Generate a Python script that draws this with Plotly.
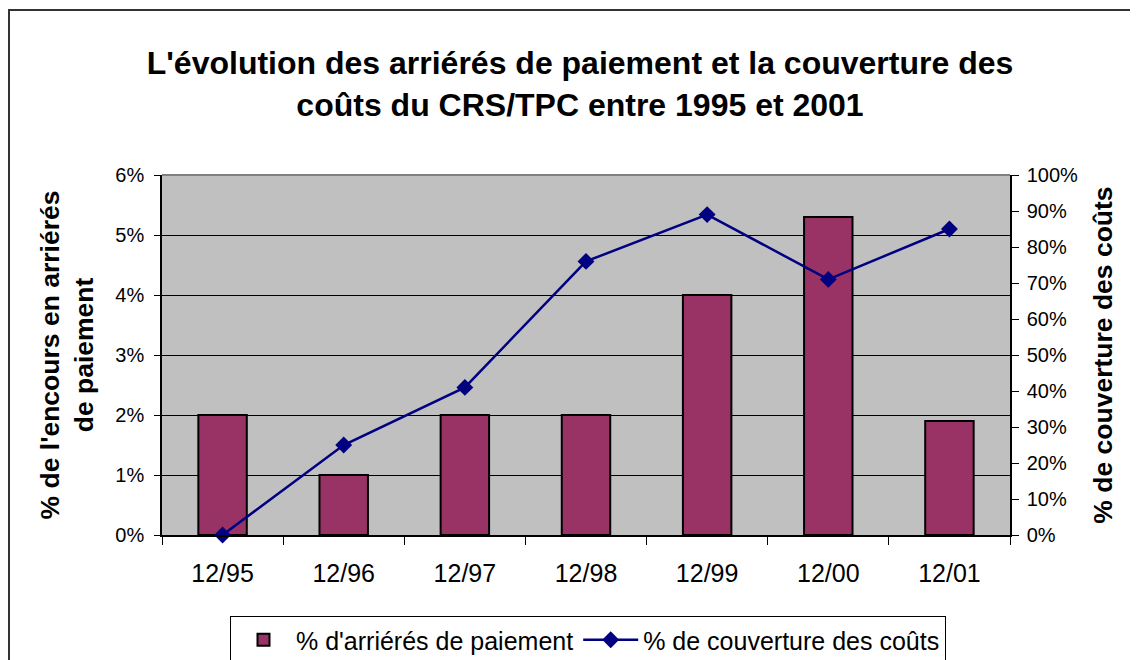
import plotly.graph_objects as go

categories = ["12/95", "12/96", "12/97", "12/98", "12/99", "12/00", "12/01"]
arrears_pct = [0.020, 0.010, 0.020, 0.020, 0.040, 0.053, 0.019]
coverage_pct = [0.00, 0.25, 0.41, 0.76, 0.89, 0.71, 0.85]

title_text = ("L'évolution des arriérés de paiement et la couverture des<br>"
              "coûts du CRS/TPC entre 1995 et 2001")
left_title = "% de l'encours en arriérés<br>de paiement"
right_title = "% de couverture des coûts"
bar_name = "% d'arriérés de paiement"
line_name = "% de couverture des coûts"

FONT = "Liberation Sans, Arial, sans-serif"

fig = go.Figure()
fig.add_trace(go.Bar(
    x=categories, y=arrears_pct, name=bar_name,
    marker=dict(color="#993366", line=dict(color="black", width=2)),
    width=0.4, yaxis="y",
))
fig.add_trace(go.Scatter(
    x=categories, y=coverage_pct, name=line_name, mode="lines+markers",
    line=dict(color="#000080", width=2.5),
    marker=dict(symbol="diamond", size=13, color="#000080"),
    yaxis="y2", cliponaxis=False,
))

# page body adds an 8px offset; figure coordinates = screenshot coordinates - 8
OFF = 8
W, H = 1138 - OFF, 660 - OFF
L, R, T, B = 162 - OFF, 1138 - 1010, 175 - OFF, 660 - 535
pw = W - L - R
ph = H - T - B

def px(x):
    return (x - OFF - L) / pw

def py(y):
    return (H - B - (y - OFF)) / ph

fig.update_layout(
    width=W, height=H,
    margin=dict(l=L, r=R, t=T, b=B, autoexpand=False),
    paper_bgcolor="white", plot_bgcolor="#C0C0C0",
    font=dict(family=FONT, color="black"),
    title=dict(text=title_text, x=(580 - OFF) / W, xanchor="center",
               y=1 - (74 - OFF) / H, yanchor="middle",
               font=dict(family=FONT, size=32, color="black", weight="bold")),
    showlegend=True,
    legend=dict(orientation="h", x=px(588), xanchor="center", y=py(616), yanchor="top",
                bordercolor="black", borderwidth=1, bgcolor="white",
                font=dict(family=FONT, size=25, color="black"),
                itemwidth=55, traceorder="normal"),
    xaxis=dict(type="category", showgrid=False, showline=True, linecolor="black", linewidth=1.5,
               ticks="outside", ticklen=8, tickcolor="black", tickson="boundaries",
               tickfont=dict(size=25, family=FONT), ticklabelstandoff=15, automargin=False),
    yaxis=dict(range=[0, 0.06], dtick=0.01, tickformat=".0%", showgrid=True, gridcolor="black",
               gridwidth=1, showline=True, linecolor="black", linewidth=1.5, ticks="outside",
               ticklen=6, tickcolor="black", tickfont=dict(size=20, family=FONT),
               ticklabelstandoff=6, automargin=False, zeroline=False,
               title=dict(text=left_title, standoff=14,
                          font=dict(size=26.5, family=FONT, weight="bold"))),
    yaxis2=dict(range=[0, 1], dtick=0.1, tickformat=".0%", overlaying="y", side="right",
                showgrid=False, showline=True, linecolor="black", linewidth=1.5, ticks="outside",
                ticklen=7, tickcolor="black", tickfont=dict(size=20, family=FONT),
                ticklabelstandoff=4, automargin=False, zeroline=False,
                title=dict(text=right_title, standoff=16,
                           font=dict(size=26.5, family=FONT, weight="bold"))),
    shapes=[
        dict(type="rect", xref="paper", yref="paper",
             x0=px(9), x1=px(1160), y0=py(700), y1=py(10),
             line=dict(color="#333333", width=2), fillcolor="rgba(0,0,0,0)", layer="below"),
        dict(type="line", xref="paper", yref="paper", x0=0, x1=1, y0=1, y1=1,
             line=dict(color="#808080", width=2)),
    ],
)

fig.write_html("out.html")
